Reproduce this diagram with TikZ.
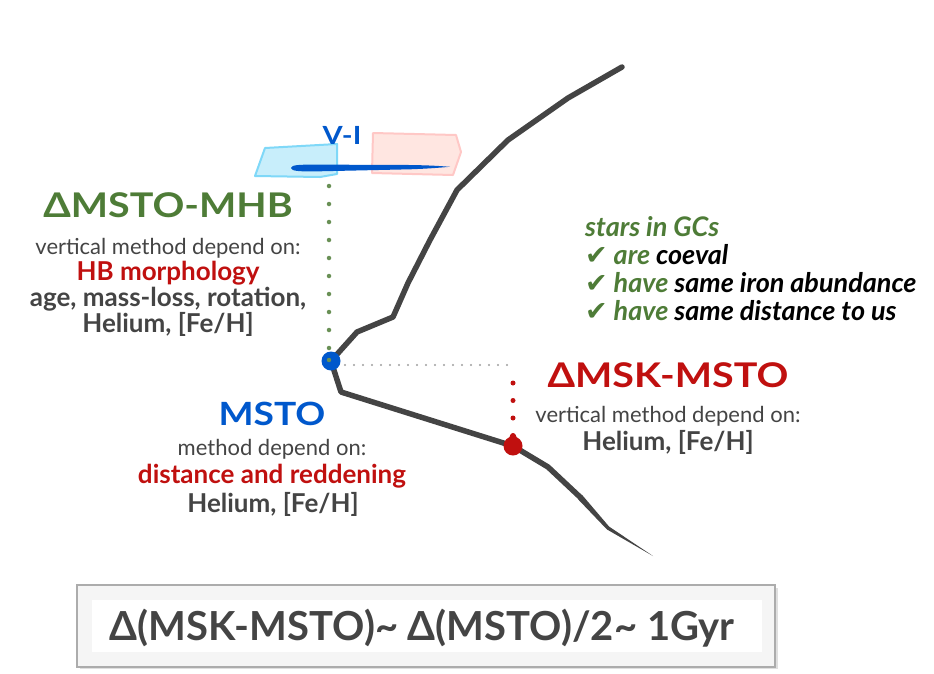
\documentclass[tikz,border=0pt]{standalone}
\usepackage{fontspec}
\setmainfont{Lato}
\newfontfamily\widefont[FakeStretch=1.16]{Lato}
\newfontfamily\symfont{DejaVu Sans}
\definecolor{tgreen}{HTML}{4E7C37}
\definecolor{tred}{HTML}{C0100F}
\definecolor{tblue}{HTML}{0058CC}
\definecolor{tgray}{HTML}{444444}
\definecolor{curvegray}{HTML}{444444}
\definecolor{cyanfill}{HTML}{C8EEFB}
\definecolor{cyanline}{HTML}{7FD8F8}
\definecolor{pinkfill}{HTML}{FFE6E1}
\definecolor{pinkline}{HTML}{FFC8C6}
\newcommand{\fs}[1]{\fontsize{#1}{#1}\selectfont}
\newcommand{\ck}{{\symfont\char"2714}}
\tikzset{
  txt/.style={inner sep=0pt, anchor=base, align=center},
  curve/.style={draw=curvegray, line width=5.5pt, line join=round, line cap=round},
  gdots/.style={draw=tgreen!85, line width=4.5pt, line cap=round, dash pattern=on 0pt off 18pt},
  rdots/.style={draw=tred, line width=5pt, line cap=round, dash pattern=on 0pt off 17.5pt},
  ydots/.style={draw=gray!75, line width=2.4pt, line cap=round, dash pattern=on 0pt off 9pt},
}
\begin{document}
\begin{tikzpicture}[x=1pt,y=-1pt]
\useasboundingbox[fill=white] (0,0) rectangle (934,673);
% V-I boxes
\draw[fill=cyanfill, draw=cyanline, line width=2pt, line join=round]
  (265,148) -- (337,144) -- (337,174) -- (320,177) -- (255,176) -- cycle;
\draw[fill=pinkfill, draw=pinkline, line width=2pt, line join=round]
  (373,133) -- (456,135) -- (461,152) -- (453,175) -- (372,173) -- cycle;
\fill[tblue] (291,168) .. controls (291,164.8) and (300,164.6) .. (315,164.6)
  -- (410,165) .. controls (430,165.3) and (440,166) .. (450,166.8)
  .. controls (440,167.6) and (430,168.6) .. (410,169.3)
  -- (315,171.4) .. controls (300,171.5) and (291,171.2) .. (291,168) -- cycle;
\node[txt, text=tblue] (vi) at (342,144) {\widefont\fs{25}\bfseries V-I};
% coordinates
\coordinate (msto) at (331,361);
\coordinate (msk) at (513,446);
\coordinate (gtop) at (329,186);
\coordinate (gbot) at (329,360);
\coordinate (rtop) at (513,383);
\coordinate (rbot) at (513,440);
\coordinate (ystart) at (345,365);
\coordinate (yend) at (512,365);
% dotted guides
\draw[gdots] (gtop) -- (gbot);
\draw[ydots] (ystart) -- (yend);
\draw[rdots] (rtop) -- (rbot);
% isochrone
\draw[curve] (622,67) -- (568,98) -- (508,140) -- (457,190) -- (430,240) -- (408,283)
  -- (393,317) -- (357,332) -- (msto) -- (341,392) -- (msk) -- (548,467) -- (580,497);
\fill[curvegray] (582,494.8) -- (609.1,526.6) -- (653,556) -- (606.9,529.4) -- (578,499.2) -- cycle;
% points
\fill[tblue] (msto) circle (9.5);
\fill[tgreen!85] (329,360) circle (2.2);
\fill[tred] (msk) circle (9.5);
\fill[tred] (513,437) circle (3.5);
% left text
\node[txt, text=tgreen] (t1) at (168,217) {\widefont\fs{34}\bfseries ΔMSTO-MHB};
\node[txt, text=tgray] (t2) at (168,254) {\fs{22}vertical method depend on:};
\node[txt, text=tred] (t3) at (168,280) {\fs{26}\bfseries HB morphology};
\node[txt, text=tgray] (t4) at (168,306) {\fs{26}\bfseries age, mass-loss, rotation,};
\node[txt, text=tgray] (t5) at (168,332) {\fs{26}\bfseries Helium, [Fe/H]};
% MSTO text
\node[txt, text=tblue] (m1) at (272,425) {\widefont\fs{32}\bfseries MSTO};
\node[txt, text=tgray] (m2) at (272,455) {\fs{22}method depend on:};
\node[txt, text=tred] (m3) at (272,483) {\fs{26}\bfseries distance and reddening};
\node[txt, text=tgray] (m4) at (273,512) {\fs{26}\bfseries Helium, [Fe/H]};
% MSK text
\node[txt, text=tred] (k1) at (668,387) {\widefont\fs{34}\bfseries ΔMSK-MSTO};
\node[txt, text=tgray] (k2) at (668,422) {\fs{22}vertical method depend on:};
\node[txt, text=tgray] (k3) at (668,450) {\fs{26}\bfseries Helium, [Fe/H]};
% right block
\node[txt, anchor=base west, text=tgreen] (s1) at (585,236) {\fs{27}\bfseries\itshape stars in GCs};
\node[txt, anchor=base west] (s2) at (585,264) {\fs{27}\bfseries\itshape \textcolor{tgreen}{\ck\ are} coeval};
\node[txt, anchor=base west] (s3) at (585,292) {\fs{27}\bfseries\itshape \textcolor{tgreen}{\ck\ have} same iron abundance};
\node[txt, anchor=base west] (s4) at (585,320) {\fs{27}\bfseries\itshape \textcolor{tgreen}{\ck\ have} same distance to us};
% bottom box
\fill[gray!25] (80,588) rectangle (778,669);
\draw[fill=gray!8, draw=gray!65, line width=1.5pt] (77,585) rectangle (775,667);
\fill[white] (92,600) rectangle (762,652);
\node[txt, text=tgray] (eq) at (422,640) {\fs{40}\bfseries Δ(MSK-MSTO)\textasciitilde{} Δ(MSTO)/2\textasciitilde{} 1Gyr};
\end{tikzpicture}
\end{document}
